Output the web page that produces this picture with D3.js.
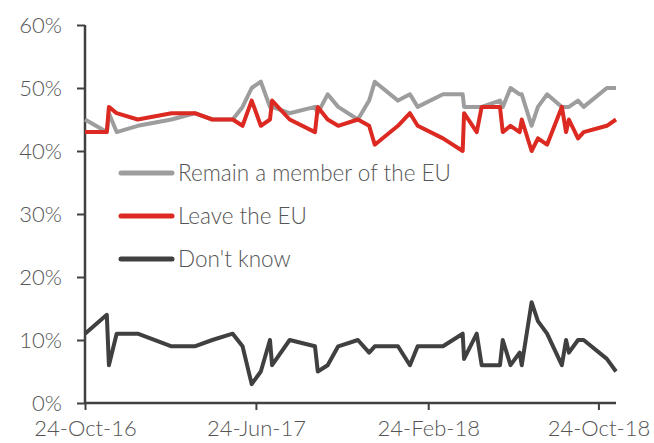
<!DOCTYPE html>
<html>
<head>
<meta charset="utf-8">
<script src="https://cdn.jsdelivr.net/npm/d3@7"></script>
<style>
    body { margin: 0; background: #fff; }
    #root { width: 654px; height: 443px; }
    .tick text, .legend text { font-family: Lato, "Open Sans", sans-serif; font-weight: 300; fill: #555; }
</style>
</head>
<body>
<div id="root"></div>
<script>
// poll dates (fieldwork end) and shares
var dates = ["2016-10-24","2016-11-24","2016-11-27","2016-12-08","2017-01-07","2017-02-24","2017-03-29",
    "2017-04-23","2017-05-22","2017-06-05","2017-06-18","2017-07-01","2017-07-14","2017-07-17","2017-08-11",
    "2017-09-16","2017-09-20","2017-10-04","2017-10-19","2017-11-16","2017-12-02","2017-12-10","2018-01-12",
    "2018-01-29","2018-02-09","2018-03-17","2018-04-14","2018-04-16","2018-05-04","2018-05-11","2018-06-06",
    "2018-06-10","2018-06-21","2018-07-04","2018-07-07","2018-07-21","2018-07-30","2018-08-12","2018-09-02",
    "2018-09-08","2018-09-12","2018-09-25","2018-10-03","2018-11-05","2018-11-18"];

var remain = [45,43,46,43,44,45,46,45,45,47,50,51,47,47,46,47,46,49,47,45,48,51,48,49,47,49,49,47,47,47,48,47,50,49,49,44,47,49,47,47,47,48,47,50,50];
var leave = [43,43,47,46,45,46,46,45,45,44,48,44,45,48,45,43,47,45,44,45,44,41,44,46,44,42,40,46,43,47,47,43,44,43,45,40,42,41,47,43,45,42,43,44,45];
var dontKnow = [11,14,6,11,11,9,9,10,11,9,3,5,10,6,10,9,5,6,9,10,8,9,9,6,9,9,11,7,11,6,6,10,6,8,6,16,13,11,6,10,8,10,10,7,5];

var seriesNames = ["Remain a member of the EU", "Leave the EU", "Don't know"];
var colors = ["#9d9d9d", "#dc2a22", "#404040"];
var yTicks = [0, 10, 20, 30, 40, 50, 60];
var xTicks = ["2016-10-24", "2017-06-24", "2018-02-24", "2018-10-24"];

function draw(){
    var width = 654, height = 443;
    var parse = d3.timeParse("%Y-%m-%d");

    d3.select("#root").html("");
    var svg = d3.select("#root").append("svg")
        .attr("width", width)
        .attr("height", height);

    var x = d3.scaleTime()
        .domain([parse(dates[0]), parse(dates[dates.length - 1])])
        .range([85, 616]);

    var y = d3.scaleLinear()
        .domain([0, 60])
        .range([403, 25]);

    // y axis
    var yAxis = svg.append("g")
        .attr("transform", "translate(85,0)")
        .call(d3.axisLeft(y).tickValues(yTicks).tickSize(8).tickPadding(15)
            .tickFormat(function(d){ return d + "%"; }));

    // x axis
    var xAxis = svg.append("g")
        .attr("transform", "translate(0,403)")
        .call(d3.axisBottom(x).tickValues(xTicks.map(parse)).tickSize(7).tickPadding(10)
            .tickFormat(d3.timeFormat("%d-%b-%y")));

    [yAxis, xAxis].forEach(function(ax){
        ax.select(".domain").attr("stroke", "#404040").attr("stroke-width", 2.5);
        ax.selectAll(".tick line").attr("stroke", "#404040").attr("stroke-width", 2);
        ax.selectAll(".tick text").style("font-size", "22px");
    });
    yAxis.select(".domain").attr("d", "M0,25V403");
    xAxis.select(".domain").attr("d", "M85,0H616");

    var line = d3.line()
        .x(function(d){ return x(d.date); })
        .y(function(d){ return y(d.value); });

    var allSeries = [remain, leave, dontKnow].map(function(vals, i){
        return {
            name: seriesNames[i],
            color: colors[i],
            values: vals.map(function(v, j){ return {date: parse(dates[j]), value: v}; })
        };
    });

    svg.selectAll(".series")
        .data(allSeries)
        .enter()
        .append("path")
        .attr("class", "series")
        .attr("d", function(d){ return line(d.values); })
        .attr("fill", "none")
        .attr("stroke", function(d){ return d.color; })
        .attr("stroke-width", 4)
        .attr("stroke-linejoin", "round");

    // legend
    var legend = svg.append("g").attr("class", "legend");
    var items = legend.selectAll("g")
        .data(allSeries)
        .enter()
        .append("g")
        .attr("transform", function(d, i){ return "translate(0," + (173 + i * 43) + ")"; });

    items.append("line")
        .attr("x1", 121).attr("x2", 172)
        .attr("stroke", function(d){ return d.color; })
        .attr("stroke-width", 5)
        .attr("stroke-linecap", "round");

    items.append("text")
        .attr("x", 178)
        .attr("dy", "0.35em")
        .style("font-size", "22.5px")
        .text(function(d){ return d.name; });
}

draw();
</script>
</body>
</html>
